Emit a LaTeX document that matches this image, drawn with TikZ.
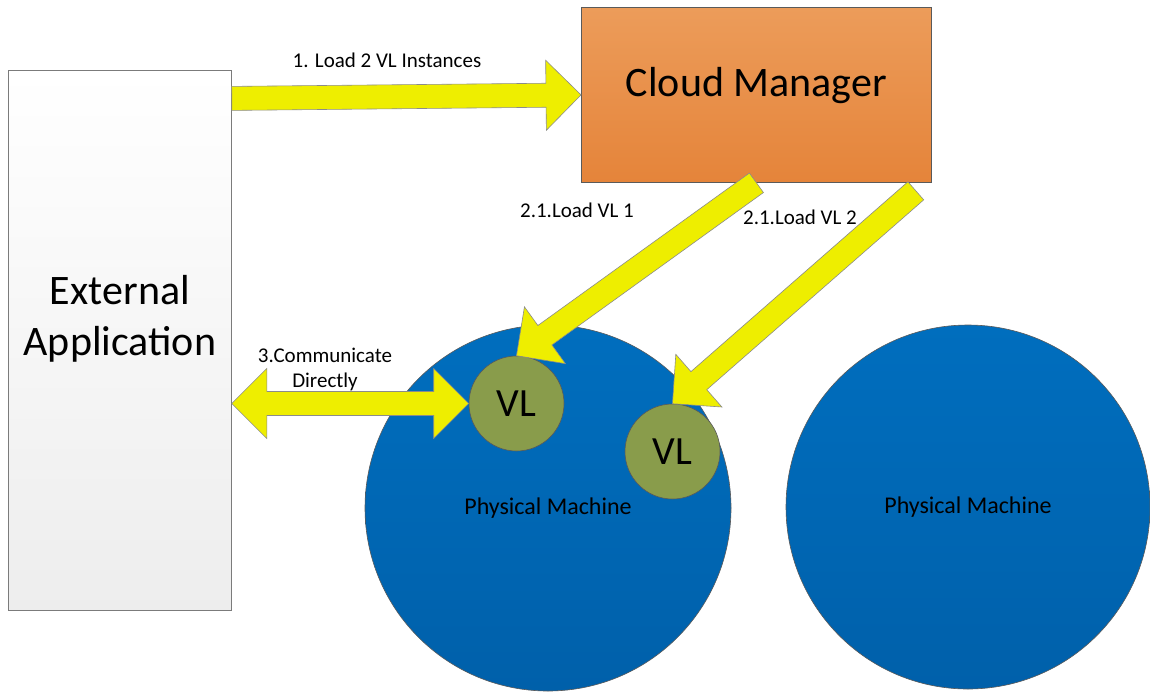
\documentclass[tikz,border=0pt]{standalone}
\usepackage{fontspec}
\setmainfont{Carlito}
\usetikzlibrary{calc}

\definecolor{cmtop}{HTML}{EC9C5A}
\definecolor{cmbot}{HTML}{E5843A}
\definecolor{pmblue}{HTML}{006EBE}
\definecolor{pmdark}{HTML}{0060AA}
\definecolor{vlgreen}{HTML}{899C4B}
\definecolor{arrowfill}{HTML}{EEEE00}
\definecolor{edge}{HTML}{5A5A5A}

\tikzset{
  bigtext/.style={font=\fontsize{42}{51}\selectfont},
  midtext/.style={font=\fontsize{24}{29}\selectfont},
  lbl/.style={font=\fontsize{21}{25}\selectfont, align=center, inner sep=0pt},
  extbox/.style={draw=edge!80, line width=0.8pt, top color=white, bottom color=black!7,
    align=center, bigtext, anchor=north west},
  cmbox/.style={draw=edge, line width=0.8pt, top color=cmtop, bottom color=cmbot,
    bigtext, anchor=north west},
  pm/.style={circle, draw=edge, line width=0.6pt, top color=pmblue, bottom color=pmdark,
    inner sep=0pt, midtext},
  vl/.style={circle, draw=edge, line width=0.6pt, fill=vlgreen, minimum size=95pt,
    inner sep=0pt, font=\fontsize{40}{48}\selectfont},
  %% block arrow from start to target
  block arrow/.style={draw=edge!70, fill=arrowfill, line width=0.6pt,
    to path={let \p1=(\tikztostart), \p2=(\tikztotarget), \p3=($(\p2)!35pt!(\p1)$) in
      ($(\p1)!12pt!90:(\p2)$) -- ($(\p3)!12pt!-90:(\p1)$) -- ($(\p3)!35pt!-90:(\p1)$)
      -- (\p2) -- ($(\p3)!35pt!90:(\p1)$) -- ($(\p3)!12pt!90:(\p1)$)
      -- ($(\p1)!12pt!-90:(\p2)$) -- cycle}},
  %% block arrow with two heads
  double block arrow/.style={draw=edge!70, fill=arrowfill, line width=0.6pt,
    to path={let \p1=(\tikztostart), \p2=(\tikztotarget),
      \p3=($(\p2)!35pt!(\p1)$), \p4=($(\p1)!35pt!(\p2)$) in
      (\p1) -- ($(\p4)!35pt!90:(\p2)$) -- ($(\p4)!12pt!90:(\p2)$)
      -- ($(\p3)!12pt!-90:(\p1)$) -- ($(\p3)!35pt!-90:(\p1)$) -- (\p2)
      -- ($(\p3)!35pt!90:(\p1)$) -- ($(\p3)!12pt!90:(\p1)$)
      -- ($(\p4)!12pt!-90:(\p2)$) -- ($(\p4)!35pt!-90:(\p2)$) -- cycle}},
}

\begin{document}
\begin{tikzpicture}[x=1pt, y=-1pt]

\useasboundingbox (0,0) rectangle (1150,691);

%% Boxes (text depth lifts the text a little above the middle)
\node[extbox, minimum width=223pt, minimum height=540pt, text depth=50pt] (ext) at (8,70) {External\\Application};
\node[cmbox, minimum width=350pt, minimum height=175pt, text depth=25pt] (cm) at (581,7) {Cloud Manager};

%% Physical machines and VL instances
\node[pm, minimum size=366pt] (pm1) at (548,508) {Physical Machine};
\node[pm, minimum size=364pt] (pm2) at (968,507) {Physical Machine};
\node[vl] (vl1) at (516.5,403.5) {VL};
\node[vl] (vl2) at (672.5,451.5) {VL};

%% Arrow ends
\coordinate (loadS) at ($(ext.east |- cm.west)+(0,3.5)$);
\coordinate (vl2S) at ($(cm.south east)+(-16,8)$);
\coordinate (commS) at (ext.east |- vl1.west);

%% Arrows
\draw[block arrow] (loadS) to (cm.west);
\draw[block arrow] (cm.south) to (vl1.north);
\draw[block arrow] (vl2S) to (vl2.north);
\draw[double block arrow] (commS) to (vl1.west);

%% Labels
\node[lbl] (loadlbl) at (387,60) {1. Load 2 VL Instances};
\node[lbl] (vl1lbl) at (577,210) {2.1.Load VL 1};
\node[lbl] (vl2lbl) at (800,217) {2.1.Load VL 2};
\node[lbl] (commlbl) at (325,369) {3.Communicate\\Directly};

\end{tikzpicture}
\end{document}
